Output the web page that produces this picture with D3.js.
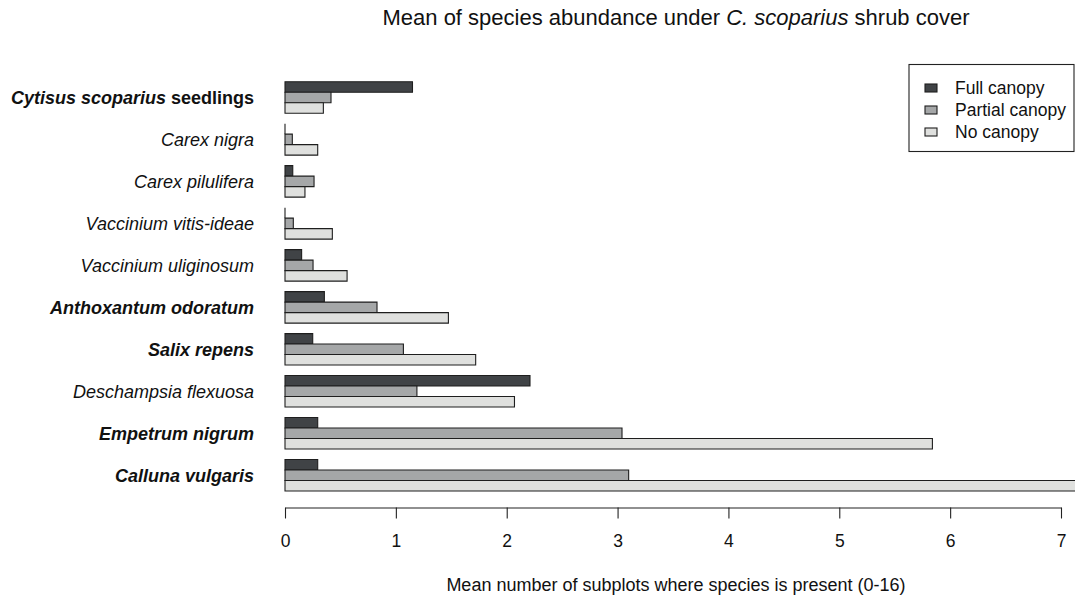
<!DOCTYPE html>
<html>
<head>
<meta charset="utf-8">
<script src="https://cdn.jsdelivr.net/npm/d3@7"></script>
<style>
  html, body { margin: 0; padding: 0; background: #fff; }
  svg { display: block; font-family: "Liberation Sans", Arial, sans-serif; }
</style>
</head>
<body>
<svg id="chart" width="1075" height="596"></svg>
<script>
// Species, top to bottom; italic binomial plus optional upright suffix
const speciesNames = [
  "Cytisus scoparius", "Carex nigra", "Carex pilulifera", "Vaccinium vitis-ideae",
  "Vaccinium uliginosum", "Anthoxantum odoratum", "Salix repens",
  "Deschampsia flexuosa", "Empetrum nigrum", "Calluna vulgaris"
];
const speciesSuffix = [" seedlings", "", "", "", "", "", "", "", "", ""];
const speciesBold = [true, false, false, false, false, true, true, false, true, true];

// Mean number of subplots (0-16) where each species is present
const fullCanopy    = [1.15, 0.00, 0.07, 0.00, 0.15, 0.355, 0.25, 2.21, 0.295, 0.295];
const partialCanopy = [0.415, 0.066, 0.262, 0.075, 0.253, 0.83, 1.068, 1.19, 3.04, 3.10];
const noCanopy      = [0.346, 0.295, 0.18, 0.427, 0.56, 1.474, 1.72, 2.07, 5.84, 7.5];

const seriesNames = ["Full canopy", "Partial canopy", "No canopy"];
const seriesFill = ["#404346", "#a5a7a8", "#dfe0de"];
const xTicks = [0, 1, 2, 3, 4, 5, 6, 7];

const svg = d3.select("#chart");
const FONT = 17.5;
const LABEL_FONT = 18;

const x = d3.scaleLinear().domain([0, 7]).range([285, 1061]);
const y = d3.scaleBand().domain(speciesNames).range([81.7, 491])
  .paddingInner(0.25).paddingOuter(0);
const ySub = d3.scaleBand().domain(seriesNames).range([0, y.bandwidth()]).padding(0);

const rows = speciesNames.map((s, i) => ({
  name: s,
  values: [fullCanopy[i], partialCanopy[i], noCanopy[i]]
}));

// Bars (paths so that zero-length bars still show their outline)
const groups = svg.append("g").selectAll("g").data(rows).join("g")
  .attr("transform", d => `translate(0,${y(d.name)})`);
groups.selectAll("path").data(d => d.values.map((v, k) => ({ v, k })))
  .join("path")
  .attr("d", d => {
    const x0 = x(0), x1 = x(d.v);
    const y0 = ySub(seriesNames[d.k]), y1 = y0 + ySub.bandwidth();
    return `M${x0},${y0}H${x1}V${y1}H${x0}Z`;
  })
  .attr("fill", d => seriesFill[d.k])
  .attr("stroke", "#1e1e1e")
  .attr("stroke-width", 1.1);

// Species labels
const labels = svg.append("g").selectAll("text").data(rows).join("text")
  .attr("x", 254)
  .attr("y", d => y(d.name) + y.bandwidth() / 2)
  .attr("dy", "0.35em")
  .attr("text-anchor", "end")
  .attr("font-size", LABEL_FONT)
  .attr("fill", "#111")
  .attr("font-weight", (d, i) => speciesBold[i] ? "bold" : "normal");
labels.append("tspan").attr("font-style", "italic").text(d => d.name);
labels.append("tspan").text((d, i) => speciesSuffix[i]);

// Bottom axis
const axis = svg.append("g").attr("transform", "translate(0,507.5)")
  .call(d3.axisBottom(x).tickValues(xTicks).tickFormat(d3.format("d"))
    .tickSizeInner(11).tickSizeOuter(0).tickPadding(16));
axis.select(".domain").attr("stroke", "#222").attr("stroke-width", 1.1);
axis.selectAll(".tick line").attr("stroke", "#222").attr("stroke-width", 1.1);
axis.selectAll(".tick text").attr("font-size", FONT).attr("fill", "#111")
  .attr("font-family", "Liberation Sans, Arial, sans-serif");

// Axis title
svg.append("text").attr("x", 676).attr("y", 591).attr("text-anchor", "middle")
  .attr("font-size", LABEL_FONT).attr("fill", "#111")
  .text("Mean number of subplots where species is present (0-16)");

// Main title
const title = svg.append("text").attr("x", 676).attr("y", 25)
  .attr("text-anchor", "middle").attr("font-size", 22).attr("fill", "#111");
title.append("tspan").text("Mean of species abundance under ");
title.append("tspan").attr("font-style", "italic").text("C. scoparius");
title.append("tspan").text(" shrub cover");

// Legend
const legend = svg.append("g");
legend.append("rect").attr("x", 909).attr("y", 64.5).attr("width", 165).attr("height", 87)
  .attr("fill", "#fff").attr("stroke", "#222").attr("stroke-width", 1.1);
const items = legend.selectAll("g.item").data(seriesNames).join("g")
  .attr("class", "item")
  .attr("transform", (d, i) => `translate(0,${88 + i * 22})`);
items.append("rect").attr("x", 925).attr("y", -4).attr("width", 12).attr("height", 8)
  .attr("fill", (d, i) => seriesFill[i]).attr("stroke", "#1e1e1e").attr("stroke-width", 1.1);
items.append("text").attr("x", 955).attr("dy", "0.35em").attr("font-size", FONT)
  .attr("fill", "#111").text(d => d);
</script>
</body>
</html>
